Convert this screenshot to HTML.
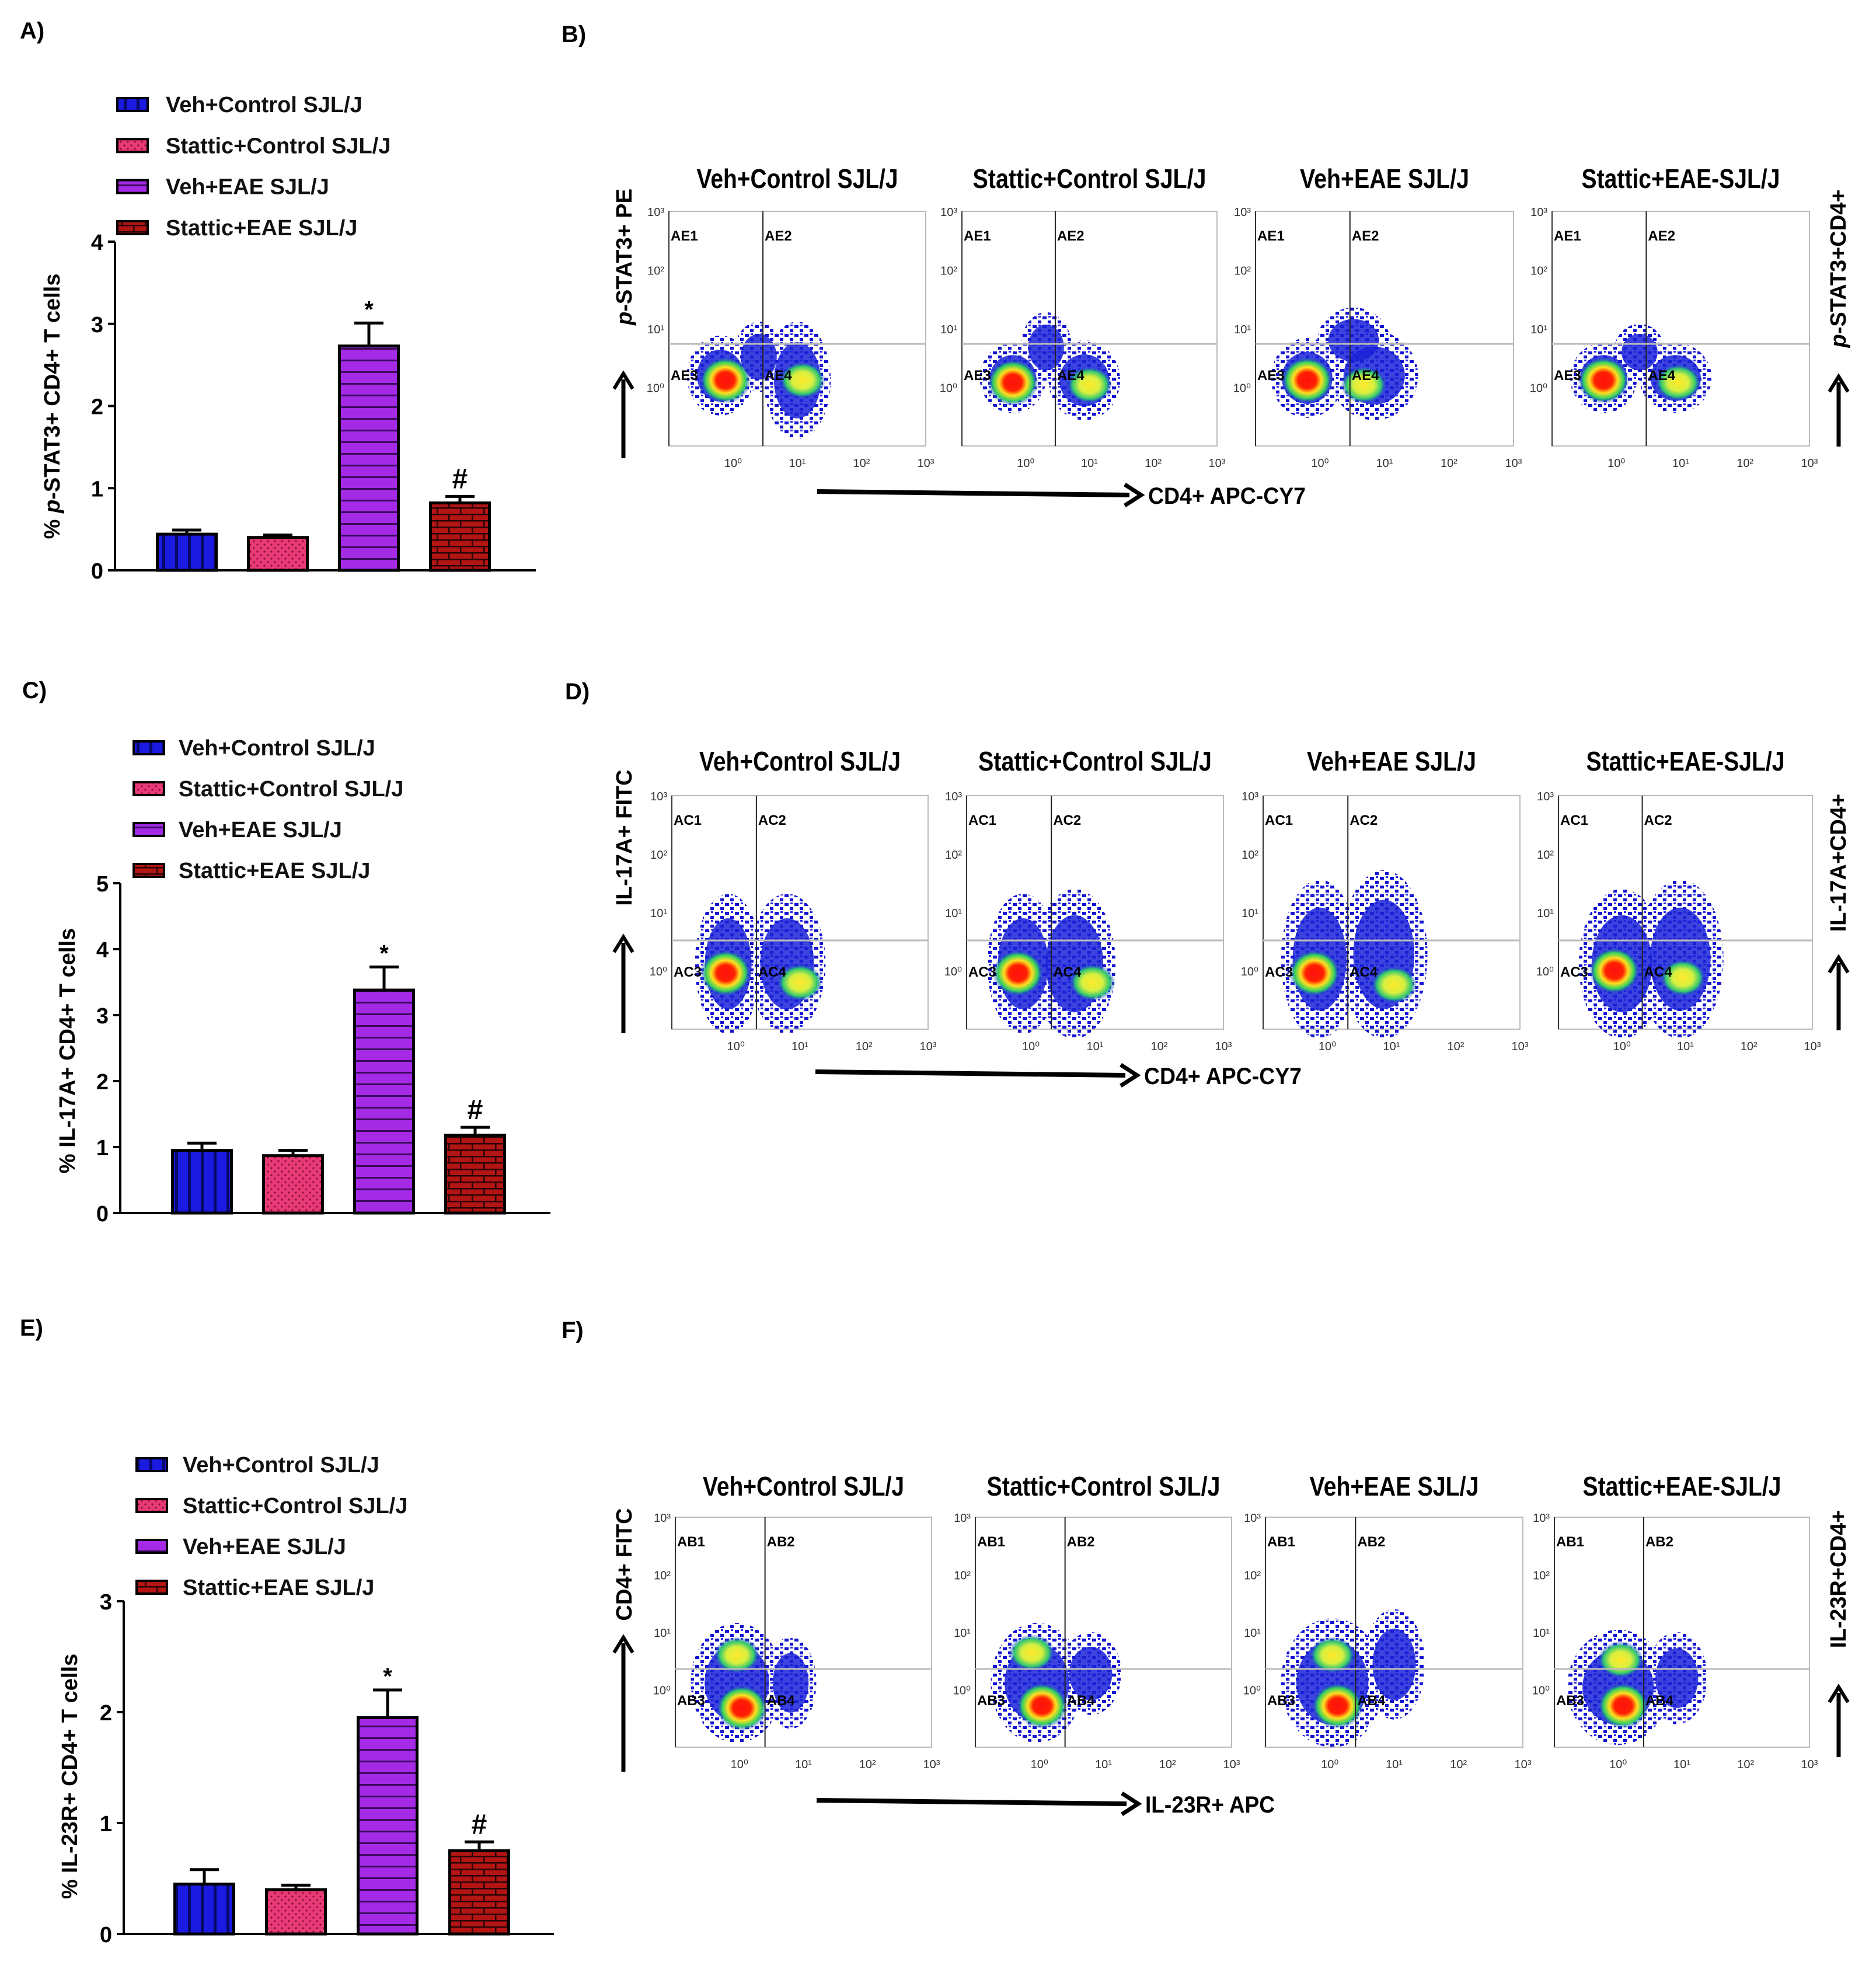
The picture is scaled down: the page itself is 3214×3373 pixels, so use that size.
<!DOCTYPE html>
<html><head><meta charset="utf-8"><style>
html,body{margin:0;padding:0;background:#fff}
svg{display:block}
text{font-family:"Liberation Sans",Arial,sans-serif}
</style></head><body>
<svg id="fig" width="3214" height="3373" viewBox="0 0 3214 3373" xmlns="http://www.w3.org/2000/svg">
<defs>
 <pattern id="pBlue" width="22" height="10" patternUnits="userSpaceOnUse"><rect width="22" height="10" fill="#1a1ae0"/><rect x="14" width="5" height="10" fill="#08086a"/></pattern>
 <pattern id="pPink" width="12" height="12" patternUnits="userSpaceOnUse"><rect width="12" height="12" fill="#e83a78"/><circle cx="3" cy="3" r="1.6" fill="#8a1030"/><circle cx="9" cy="9" r="1.6" fill="#8a1030"/></pattern>
 <pattern id="pPurple" width="10" height="20" patternUnits="userSpaceOnUse"><rect width="10" height="20" fill="#a52ae6"/><rect y="16" width="10" height="3" fill="#3a0a5a"/></pattern>
 <pattern id="pBrick" width="40" height="22" patternUnits="userSpaceOnUse"><rect width="40" height="22" fill="#b31414"/><rect y="0" width="40" height="2.5" fill="#2a0505"/><rect y="11" width="40" height="2.5" fill="#2a0505"/><rect x="8" y="0" width="2.5" height="11" fill="#2a0505"/><rect x="28" y="11" width="2.5" height="11" fill="#2a0505"/></pattern>
 <pattern id="pDots" width="17" height="15" patternUnits="userSpaceOnUse"><rect x="1" y="2" width="7" height="5" fill="#1414d0"/><rect x="10" y="9" width="6" height="5" fill="#1414d0"/><rect x="11" y="1" width="4" height="3" fill="#2a2ae8"/></pattern>
 <radialGradient id="gCore"><stop offset="0" stop-color="#ff1010"/><stop offset="0.35" stop-color="#ff2000"/><stop offset="0.55" stop-color="#ffe020"/><stop offset="0.78" stop-color="#30d060"/><stop offset="1" stop-color="#1a2ae0" stop-opacity="0"/></radialGradient>
 <radialGradient id="gYel"><stop offset="0" stop-color="#ffe82a"/><stop offset="0.45" stop-color="#d8f040"/><stop offset="0.75" stop-color="#30c870"/><stop offset="1" stop-color="#1a2ae0" stop-opacity="0"/></radialGradient>
</defs>
<g id="root"></g>
</svg>
<script>
// ---------------- Bar chart data ----------------
const groups = ["Veh+Control SJL/J","Stattic+Control SJL/J","Veh+EAE SJL/J","Stattic+EAE SJL/J"];
const valuesA = [0.44, 0.40, 2.73, 0.82];
const errorsA = [0.05, 0.03, 0.28, 0.08];
const ticksA = [0,1,2,3,4];
const valuesC = [0.95, 0.87, 3.38, 1.18];
const errorsC = [0.11, 0.08, 0.35, 0.12];
const ticksC = [0,1,2,3,4,5];
const valuesE = [0.45, 0.40, 1.95, 0.75];
const errorsE = [0.13, 0.04, 0.25, 0.08];
const ticksE = [0,1,2,3];
const marksA = ["","","*","#"];
const marksC = ["","","*","#"];
const marksE = ["","","*","#"];
// ---------------- Flow cytometry cluster data (fractions of plot box) ----------------
// each: [fx, fy, rx, ry]
const spreadB = [[[0.20,0.70,0.13,0.17],[0.50,0.72,0.13,0.25],[0.35,0.62,0.10,0.15]],[[0.20,0.71,0.13,0.15],[0.48,0.72,0.14,0.17],[0.33,0.58,0.10,0.15]],[[0.20,0.71,0.14,0.17],[0.46,0.70,0.17,0.19],[0.38,0.55,0.14,0.14]],[[0.20,0.71,0.13,0.15],[0.48,0.71,0.14,0.15],[0.34,0.60,0.10,0.12]]];
const coreB = [[0.22,0.72],[0.20,0.73],[0.20,0.72],[0.20,0.72]];
const yelB = [[0.52,0.72],[0.50,0.74],[0.42,0.74],[0.49,0.73]];
const spreadD = [[[0.22,0.72,0.13,0.30],[0.45,0.72,0.15,0.30]],[[0.22,0.72,0.14,0.30],[0.42,0.72,0.16,0.32]],[[0.22,0.70,0.15,0.34],[0.47,0.68,0.17,0.36]],[[0.25,0.72,0.17,0.32],[0.48,0.70,0.17,0.34]]];
const coreD = [[0.21,0.76],[0.20,0.76],[0.20,0.76],[0.22,0.75]];
const yelD = [[0.50,0.80],[0.49,0.80],[0.51,0.81],[0.49,0.78]];
const spreadF = [[[0.24,0.72,0.18,0.26],[0.45,0.72,0.10,0.20]],[[0.24,0.72,0.18,0.26],[0.45,0.68,0.12,0.18]],[[0.26,0.72,0.20,0.28],[0.50,0.64,0.12,0.24]],[[0.25,0.74,0.20,0.25],[0.48,0.70,0.12,0.20]]];
const coreF = [[0.26,0.83],[0.26,0.82],[0.28,0.82],[0.27,0.82]];
const yelF = [[0.24,0.60],[0.22,0.59],[0.26,0.60],[0.26,0.62]];
const titles = ["Veh+Control SJL/J","Stattic+Control SJL/J","Veh+EAE SJL/J","Stattic+EAE-SJL/J"];
const xTickLbl = ["10\u2070","10\u00b9","10\u00b2","10\u00b3"];
const yTickLbl = ["10\u00b3","10\u00b2","10\u00b9","10\u2070"];

const NS="http://www.w3.org/2000/svg";
const root=document.getElementById('root');
function mk(tag,attrs,parent,txt){const e=document.createElementNS(NS,tag);for(const k in attrs)e.setAttribute(k,attrs[k]);if(txt!==undefined)e.textContent=txt;(parent||root).appendChild(e);return e;}

function panelLetter(t,x,y){
 const e=mk('text',{x:x,y:y,'font-size':40,'font-weight':'bold'},root,t);
 
 
}
panelLetter('A)',34,66);panelLetter('B)',962,72);
panelLetter('C)',38,1196);panelLetter('D)',968,1198);
panelLetter('E)',34,2288);panelLetter('F)',962,2292);

const fills=["url(#pBlue)","url(#pPink)","url(#pPurple)","url(#pBrick)"];
function barChart(cfg,vals,errs,ticks,marks){
 const g=mk('g',{});
 
 
 const ymax=ticks[ticks.length-1];
 const Y=v=>cfg.y0-(v/ymax)*(cfg.y0-cfg.yTop);
 // legend
 groups.forEach((gname,i)=>{
  const lg=mk('g',{},g);
  
  
  const cy=cfg.legRows[0]+i*cfg.legStep;
  mk('rect',{x:cfg.legX,y:cy-11,width:52,height:22,fill:fills[i],stroke:'#000','stroke-width':4},lg);
  mk('text',{x:cfg.legTX,y:cy+13,'font-size':38,'font-weight':'bold',fill:'#111'},lg,gname);
 });
 // axes
 const ax=mk('line',{x1:cfg.ax,y1:cfg.yTop,x2:cfg.ax,y2:cfg.y0,stroke:'#000','stroke-width':4},g);
 
 
 const xa=mk('line',{x1:cfg.ax,y1:cfg.y0,x2:cfg.xEnd,y2:cfg.y0,stroke:'#000','stroke-width':4},g);
 
 
 ticks.forEach(t=>{
  mk('line',{x1:cfg.ax-12,y1:Y(t),x2:cfg.ax,y2:Y(t),stroke:'#000','stroke-width':4},g);
  const tl=mk('text',{x:cfg.ax-20,y:Y(t)+14,'font-size':38,'font-weight':'bold','text-anchor':'end'},g,String(t));
  
  
 });
 const lab=mk('text',{x:0,y:0,'font-size':38,'font-weight':'bold','text-anchor':'middle',transform:`translate(${cfg.labX},${cfg.labY}) rotate(-90)`},g);
 
 
 lab.innerHTML=cfg.label;
 const bw=101;
 vals.forEach((v,i)=>{
  const cx=cfg.c0+i*cfg.step;
  const top=Y(v), etop=Y(v+errs[i]);
  mk('line',{x1:cx,y1:top,x2:cx,y2:etop,stroke:'#000','stroke-width':5},g);
  mk('line',{x1:cx-25,y1:etop,x2:cx+25,y2:etop,stroke:'#000','stroke-width':5},g);
  const b=mk('rect',{x:cx-bw/2,y:top,width:bw,height:cfg.y0-top,fill:fills[i],stroke:'#000','stroke-width':5},g);
  
  
  if(marks[i]){
   const m=mk('text',{x:cx,y:etop-(marks[i]=='*'?10:14),'font-size':marks[i]=='*'?40:48,'font-weight':'bold','text-anchor':'middle'},g,marks[i]);
   
   
  }
 });
}
barChart({name:'chart-a',ax:197,y0:977,yTop:414,xEnd:918,c0:320,step:156,legX:201,legTX:284,legRows:[179],legStep:70.3,labX:102,labY:696,label:'% <tspan font-style="italic">p</tspan>-STAT3+ CD4+ T cells'},valuesA,errorsA,ticksA,marksA);
barChart({name:'chart-c',ax:206,y0:2078,yTop:1513,xEnd:943,c0:346,step:156,legX:229,legTX:306,legRows:[1281],legStep:70,labX:128,labY:1800,label:'% IL-17A+ CD4+ T cells'},valuesC,errorsC,ticksC,marksC);
barChart({name:'chart-e',ax:212,y0:3313,yTop:2743,xEnd:949,c0:350,step:157,legX:234,legTX:313,legRows:[2509],legStep:70,labX:132,labY:3043,label:'% IL-23R+ CD4+ T cells'},valuesE,errorsE,ticksE,marksE);

// ---------------- Flow plots ----------------
function flowRow(cfg,spreads,cores,yels){
 const g=mk('g',{});
 
 
 cfg.boxes.forEach((bx,i)=>{
  const [x0,x1]=bx, y0=cfg.y0, y1=cfg.y1, w=x1-x0, h=y1-y0;
  const pg=mk('g',{},g);
  
  
  const t=mk('text',{x:(x0+x1)/2,y:cfg.titleY,'font-size':46,'font-weight':'bold','text-anchor':'middle',textLength:(i==1?400:(i==0?345:(i==2?290:340))),lengthAdjust:'spacingAndGlyphs'},pg,titles[i]);
  
  
  mk('rect',{x:x0,y:y0,width:w,height:h,fill:'#fff',stroke:'#bbb','stroke-width':2},pg);
  mk('line',{x1:x0,y1:y0,x2:x0,y2:y1,stroke:'#333','stroke-width':2},pg);
  const fx=X=>x0+X*w, fy=Y=>y0+Y*h;
  spreads[i].forEach(s=>{mk('ellipse',{cx:fx(s[0]),cy:fy(s[1]),rx:s[2]*w,ry:s[3]*h,fill:'url(#pDots)'},pg);});
  spreads[i].forEach(s=>{mk('ellipse',{cx:fx(s[0]),cy:fy(s[1]),rx:s[2]*w*0.7,ry:s[3]*h*0.65,fill:'#1a22d8',opacity:0.85},pg);});
  const y=yels[i];
  mk('ellipse',{cx:fx(y[0]),cy:fy(y[1]),rx:0.09*w,ry:0.08*h,fill:'url(#gYel)'},pg);
  const c=cores[i];
  mk('ellipse',{cx:fx(c[0]),cy:fy(c[1]),rx:0.10*w,ry:0.10*h,fill:'url(#gCore)'},pg);
  // gates
  mk('line',{x1:fx(cfg.gx),y1:y0,x2:fx(cfg.gx),y2:y1,stroke:'#222','stroke-width':2},pg);
  mk('line',{x1:x0,y1:fy(cfg.gy),x2:x1,y2:fy(cfg.gy),stroke:'#bbb','stroke-width':3},pg);
  const p=cfg.prefix;
  mk('text',{x:x0+3,y:y0+50,'font-size':24,'font-weight':'bold'},pg,p+'1');
  mk('text',{x:fx(cfg.gx)+3,y:y0+50,'font-size':24,'font-weight':'bold'},pg,p+'2');
  mk('text',{x:x0+3,y:fy(cfg.gy)+62,'font-size':24,'font-weight':'bold'},pg,p+'3');
  mk('text',{x:fx(cfg.gx)+3,y:fy(cfg.gy)+62,'font-size':24,'font-weight':'bold'},pg,p+'4');
  xTickLbl.forEach((l,k)=>{mk('text',{x:fx(0.25*(k+1)),y:y1+36,'font-size':20,'text-anchor':'middle',fill:'#333'},pg,l);});
  yTickLbl.forEach((l,k)=>{mk('text',{x:x0-8,y:fy(0.25*k)+8,'font-size':20,'text-anchor':'end',fill:'#333'},pg,l);});
 });
 // x arrow
 const xa=mk('g',{},g);
 
 
 mk('line',{x1:cfg.arX0,y1:cfg.arY-6,x2:cfg.arX1-20,y2:cfg.arY,stroke:'#000','stroke-width':8},xa);
 mk('polyline',{points:`${cfg.arX1-28},${cfg.arY-18} ${cfg.arX1},${cfg.arY} ${cfg.arX1-28},${cfg.arY+18}`,fill:'none',stroke:'#000','stroke-width':7},xa);
 const xl=mk('text',{x:cfg.arX1+12,y:cfg.arY+15,'font-size':40,'font-weight':'bold',textLength:cfg.xLabW,lengthAdjust:'spacingAndGlyphs'},g,cfg.xLab);
 
 
 // left arrow + label
 mk('line',{x1:1068,y1:cfg.lArB,x2:1068,y2:cfg.lArT+10,stroke:'#000','stroke-width':7},g);
 mk('polyline',{points:`1052,${cfg.lArT+26} 1068,${cfg.lArT} 1084,${cfg.lArT+26}`,fill:'none',stroke:'#000','stroke-width':6},g);
 const yl=mk('text',{x:0,y:0,'font-size':38,'font-weight':'bold','text-anchor':'middle',transform:`translate(1082,${cfg.lLabY}) rotate(-90)`},g);
 yl.innerHTML=cfg.yLab;
 
 
 // right arrow + label
 mk('line',{x1:3150,y1:cfg.rArB,x2:3150,y2:cfg.rArT+10,stroke:'#000','stroke-width':7},g);
 mk('polyline',{points:`3134,${cfg.rArT+26} 3150,${cfg.rArT} 3166,${cfg.rArT+26}`,fill:'none',stroke:'#000','stroke-width':6},g);
 const rl=mk('text',{x:0,y:0,'font-size':38,'font-weight':'bold','text-anchor':'middle',transform:`translate(3162,${cfg.rLabY}) rotate(-90)`},g);
 rl.innerHTML=cfg.rLab;
 
 
}
flowRow({name:'flow-row-b',prefix:'AE',boxes:[[1146,1586],[1648,2085],[2151,2593],[2659,3100]],y0:362,y1:764,gx:0.366,gy:0.565,titleY:322,
 arX0:1400,arX1:1955,arY:848,xLab:'CD4+ APC-CY7',xLabW:270,lLabY:440,lArT:640,lArB:785,yLab:'<tspan font-style="italic">p</tspan>-STAT3+ PE',
 rLabY:460,rArT:645,rArB:765,rLab:'<tspan font-style="italic">p</tspan>-STAT3+CD4+'},spreadB,coreB,yelB);
flowRow({name:'flow-row-d',prefix:'AC',boxes:[[1151,1590],[1656,2096],[2164,2604],[2670,3105]],y0:1363,y1:1763,gx:0.33,gy:0.62,titleY:1320,
 arX0:1397,arX1:1948,arY:1842,xLab:'CD4+ APC-CY7',xLabW:270,lLabY:1435,lArT:1605,lArB:1770,yLab:'IL-17A+ FITC',
 rLabY:1478,rArT:1640,rArB:1765,rLab:'IL-17A+CD4+'},spreadD,coreD,yelD);
flowRow({name:'flow-row-f',prefix:'AB',boxes:[[1157,1596],[1671,2110],[2168,2609],[2663,3100]],y0:2599,y1:2993,gx:0.35,gy:0.66,titleY:2562,
 arX0:1399,arX1:1950,arY:3090,xLab:'IL-23R+ APC',xLabW:222,lLabY:2680,lArT:2805,lArB:3035,yLab:'CD4+ FITC',
 rLabY:2705,rArT:2890,rArB:3010,rLab:'IL-23R+CD4+'},spreadF,coreF,yelF);
</script>
</body></html>
